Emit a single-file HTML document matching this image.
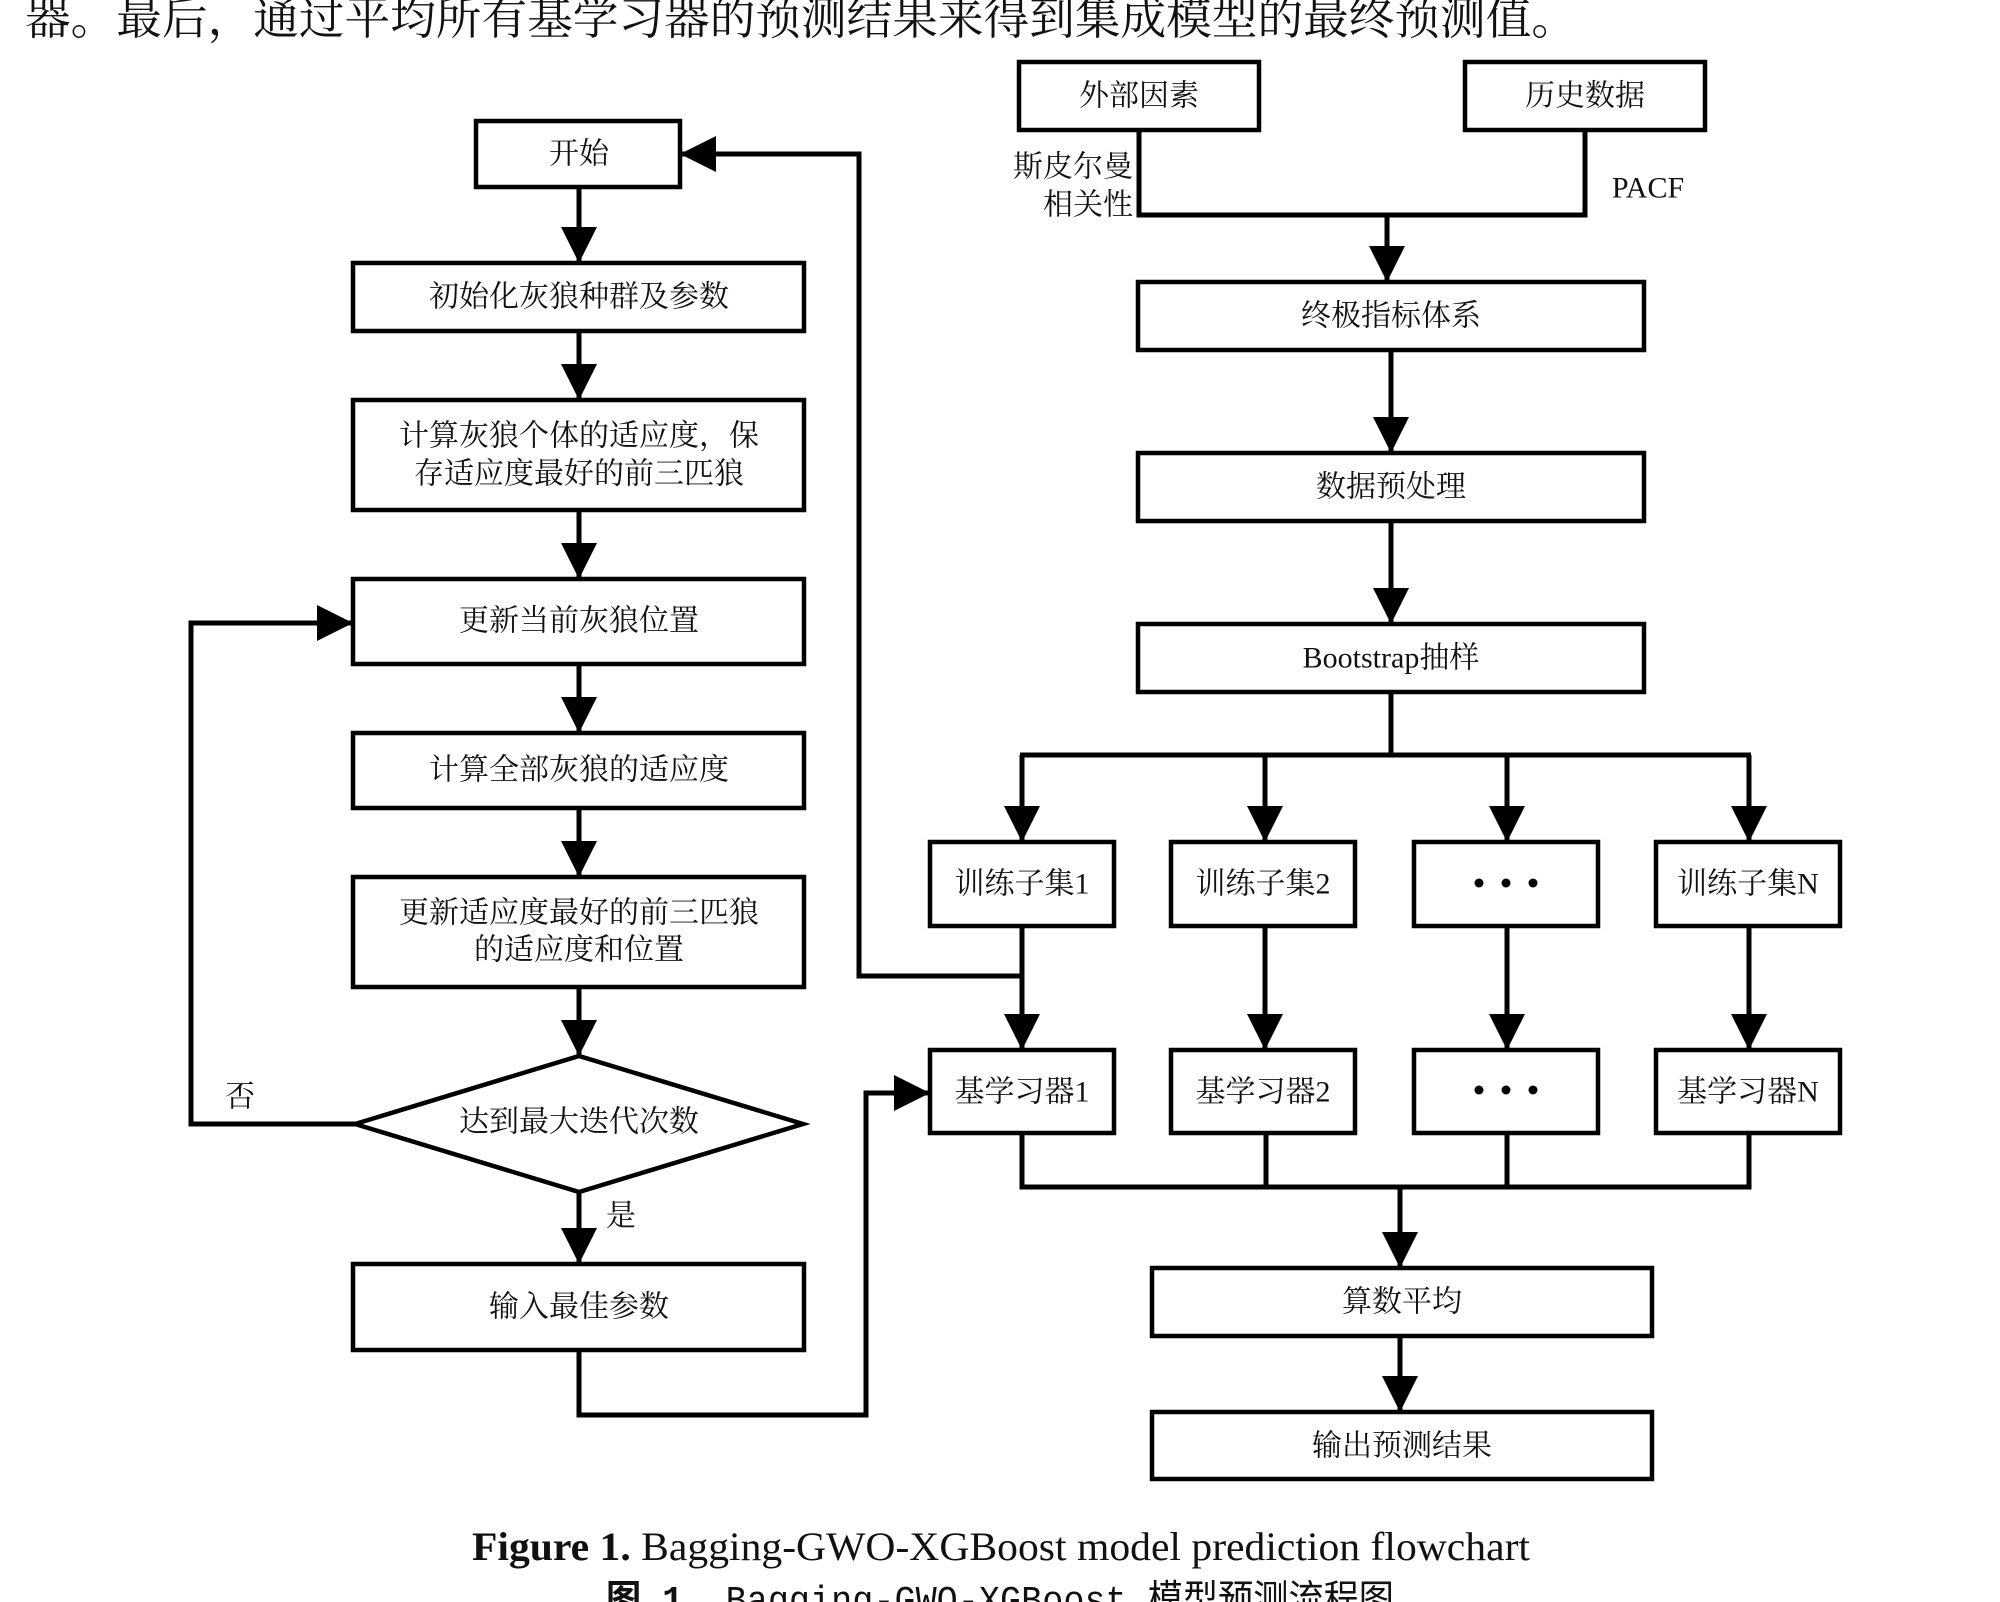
<!DOCTYPE html>
<html><head><meta charset="utf-8"><style>
html,body{margin:0;padding:0;background:#fff;}
svg{display:block;}
text{font-family:"Liberation Serif","Noto Serif CJK SC",serif;fill:#111;}
</style></head><body>
<svg width="2000" height="1602" viewBox="0 0 2000 1602" xmlns="http://www.w3.org/2000/svg">
<defs>
<marker id="a" viewBox="0 0 36 36" refX="36" refY="18" markerWidth="36" markerHeight="36" markerUnits="userSpaceOnUse" orient="auto"><polygon points="0,0 36,18 0,36" fill="#000"/></marker>
</defs>
<text x="25" y="34" font-size="45.6" textLength="1552" lengthAdjust="spacingAndGlyphs">器。最后，通过平均所有基学习器的预测结果来得到集成模型的最终预测值。</text>

<g fill="none" stroke="#000" stroke-width="4.5">
<rect x="476" y="121" width="204" height="66"/>
<rect x="353" y="263" width="451" height="68"/>
<rect x="353" y="400" width="451" height="110"/>
<rect x="353" y="579" width="451" height="85"/>
<rect x="353" y="733" width="451" height="75"/>
<rect x="353" y="877" width="451" height="110"/>
<polygon points="355,1124 579,1056 803,1124 579,1192"/>
<rect x="353" y="1264" width="451" height="86"/>
<rect x="1019" y="62" width="240" height="68"/>
<rect x="1465" y="62" width="240" height="68"/>
<rect x="1138" y="282" width="506" height="68"/>
<rect x="1138" y="453" width="506" height="68"/>
<rect x="1138" y="624" width="506" height="68"/>
<rect x="930" y="842" width="184" height="84"/>
<rect x="1171" y="842" width="184" height="84"/>
<rect x="1414" y="842" width="184" height="84"/>
<rect x="1656" y="842" width="184" height="84"/>
<rect x="930" y="1050" width="184" height="83"/>
<rect x="1171" y="1050" width="184" height="83"/>
<rect x="1414" y="1050" width="184" height="83"/>
<rect x="1656" y="1050" width="184" height="83"/>
<rect x="1152" y="1268" width="500" height="68"/>
<rect x="1152" y="1412" width="500" height="67"/>
</g>

<g fill="none" stroke="#000" stroke-width="5">
<line x1="579" y1="187" x2="579" y2="263" marker-end="url(#a)"/>
<line x1="579" y1="331" x2="579" y2="400" marker-end="url(#a)"/>
<line x1="579" y1="510" x2="579" y2="579" marker-end="url(#a)"/>
<line x1="579" y1="664" x2="579" y2="733" marker-end="url(#a)"/>
<line x1="579" y1="808" x2="579" y2="877" marker-end="url(#a)"/>
<line x1="579" y1="987" x2="579" y2="1056" marker-end="url(#a)"/>
<line x1="579" y1="1192" x2="579" y2="1264" marker-end="url(#a)"/>
<polyline points="355,1124 191,1124 191,623 353,623" marker-end="url(#a)"/>
<polyline points="579,1350 579,1415 866,1415 866,1093 930,1093" marker-end="url(#a)"/>
<polyline points="1022,976 859,976 859,154 680,154" marker-end="url(#a)"/>
<polyline points="1139,130 1139,215 1585,215 1585,130"/>
<line x1="1387" y1="215" x2="1387" y2="282" marker-end="url(#a)"/>
<line x1="1391" y1="350" x2="1391" y2="453" marker-end="url(#a)"/>
<line x1="1391" y1="521" x2="1391" y2="624" marker-end="url(#a)"/>
<polyline points="1391,692 1391,755"/>
<line x1="1020" y1="755" x2="1751" y2="755"/>
<line x1="1022" y1="755" x2="1022" y2="842" marker-end="url(#a)"/>
<line x1="1265" y1="755" x2="1265" y2="842" marker-end="url(#a)"/>
<line x1="1507" y1="755" x2="1507" y2="842" marker-end="url(#a)"/>
<line x1="1749" y1="755" x2="1749" y2="842" marker-end="url(#a)"/>
<line x1="1022" y1="926" x2="1022" y2="1050" marker-end="url(#a)"/>
<line x1="1265" y1="926" x2="1265" y2="1050" marker-end="url(#a)"/>
<line x1="1507" y1="926" x2="1507" y2="1050" marker-end="url(#a)"/>
<line x1="1749" y1="926" x2="1749" y2="1050" marker-end="url(#a)"/>
<polyline points="1022,1133 1022,1187 1749,1187 1749,1133"/>
<line x1="1266" y1="1133" x2="1266" y2="1187"/>
<line x1="1507" y1="1133" x2="1507" y2="1187"/>
<line x1="1400" y1="1187" x2="1400" y2="1268" marker-end="url(#a)"/>
<line x1="1400" y1="1336" x2="1400" y2="1412" marker-end="url(#a)"/>
</g>

<g fill="#000">
<circle cx="1479" cy="883" r="4.5"/><circle cx="1506" cy="883" r="4.5"/><circle cx="1533" cy="883" r="4.5"/>
<circle cx="1479" cy="1090" r="4.5"/><circle cx="1506" cy="1090" r="4.5"/><circle cx="1533" cy="1090" r="4.5"/>
</g>

<g font-size="30" text-anchor="middle" dominant-baseline="central">
<text x="579" y="154">开始</text>
<text x="579" y="297">初始化灰狼种群及参数</text>
<text x="579" y="436">计算灰狼个体的适应度，保</text>
<text x="579" y="474">存适应度最好的前三匹狼</text>
<text x="579" y="621">更新当前灰狼位置</text>
<text x="579" y="770">计算全部灰狼的适应度</text>
<text x="579" y="913">更新适应度最好的前三匹狼</text>
<text x="579" y="950">的适应度和位置</text>
<text x="579" y="1122">达到最大迭代次数</text>
<text x="579" y="1307">输入最佳参数</text>
<text x="240" y="1097">否</text>
<text x="621" y="1216">是</text>
<text x="1139" y="96">外部因素</text>
<text x="1585" y="96">历史数据</text>
<text x="1073" y="167">斯皮尔曼</text>
<text x="1088" y="205">相关性</text>
<text x="1648" y="188">PACF</text>
<text x="1391" y="316">终极指标体系</text>
<text x="1391" y="487">数据预处理</text>
<text x="1391" y="658">Bootstrap抽样</text>
<text x="1022" y="884">训练子集1</text>
<text x="1263" y="884">训练子集2</text>
<text x="1748" y="884">训练子集N</text>
<text x="1022" y="1092">基学习器1</text>
<text x="1263" y="1092">基学习器2</text>
<text x="1748" y="1092">基学习器N</text>
<text x="1402" y="1302">算数平均</text>
<text x="1402" y="1446">输出预测结果</text>
</g>

<text x="472" y="1560" font-size="40" textLength="1058" lengthAdjust="spacingAndGlyphs"><tspan font-weight="bold">Figure 1.</tspan> Bagging-GWO-XGBoost model prediction flowchart</text>
<text x="606" y="1612" font-size="38" textLength="788" lengthAdjust="spacingAndGlyphs" style="font-family:'Liberation Mono','Noto Sans CJK SC',monospace"><tspan font-weight="bold">图 1.</tspan> Bagging-GWO-XGBoost 模型预测流程图</text>
</svg>
</body></html>
